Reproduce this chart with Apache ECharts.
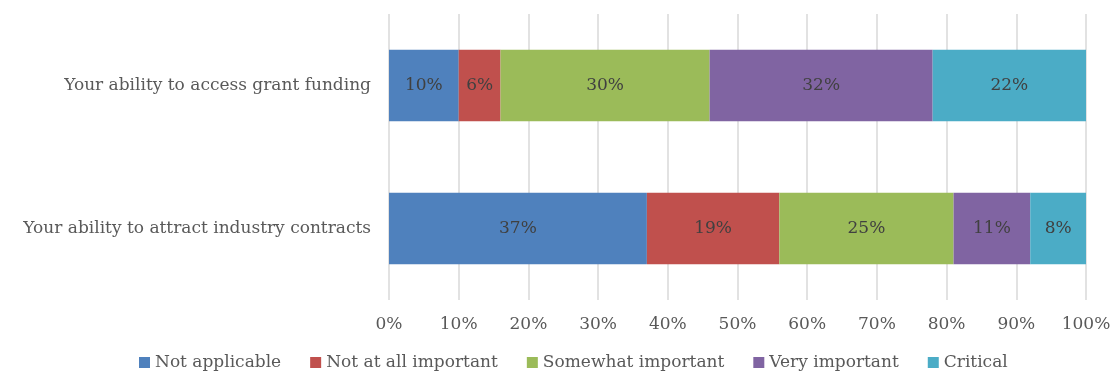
<!DOCTYPE html>
<html>
<head>
<meta charset="utf-8">
<script src="https://cdn.jsdelivr.net/npm/echarts@6/dist/echarts.min.js"></script>
<style>
  html, body { margin: 0; padding: 0; background: #ffffff; }
  #chart { width: 1110px; height: 372px; }
</style>
</head>
<body>
<div id="chart"></div>
<script>
// Survey questions (top to bottom)
const categories = [
  'Your ability to access grant funding',
  'Your ability to attract industry contracts'
];

// Share of responses per rating, in percent, one value per question
const notApplicable     = [10, 37];
const notAtAllImportant = [6, 19];
const somewhatImportant = [30, 25];
const veryImportant     = [32, 11];
const critical          = [22, 8];

const seriesNames = ['Not applicable', 'Not at all important', 'Somewhat important', 'Very important', 'Critical'];
const seriesData = [notApplicable, notAtAllImportant, somewhatImportant, veryImportant, critical];
const colors = ['#4F81BD', '#C0504D', '#9BBB59', '#8064A2', '#4BACC6'];

const FONT = '"DejaVu Serif", "Liberation Serif", serif';

const chart = echarts.init(document.getElementById('chart'));
chart.setOption({
  animation: false,
  color: colors,
  textStyle: { fontFamily: FONT },
  grid: {
    left: 389, right: 24, top: 14, bottom: 72,
    containLabel: false,
    outerBoundsMode: 'none'
  },
  legend: {
    bottom: 1,
    left: 139,
    padding: 0,
    icon: 'rect',
    itemWidth: 11,
    itemHeight: 11,
    itemGap: 29,
    itemTextGap: 4,
    textStyle: { color: '#595959', fontSize: 17, fontFamily: FONT },
    data: seriesNames
  },
  xAxis: {
    type: 'value',
    min: 0,
    max: 100,
    interval: 10,
    axisLine: { show: false },
    axisTick: { show: false },
    axisLabel: {
      color: '#595959',
      fontSize: 17,
      margin: 16,
      formatter: v => v + '%'
    },
    splitLine: { show: true, lineStyle: { color: '#d9d9d9', width: 1.5 } }
  },
  yAxis: {
    type: 'category',
    inverse: true,
    data: categories,
    axisLine: { show: false },
    axisTick: { show: false },
    axisLabel: { color: '#595959', fontSize: 17, margin: 18 }
  },
  series: seriesData.map((d, i) => ({
    name: seriesNames[i],
    type: 'bar',
    stack: 'total',
    barWidth: '50%',
    data: d,
    label: {
      show: true,
      position: 'inside',
      color: '#404040',
      fontSize: 17,
      fontFamily: FONT,
      formatter: p => p.value + '%'
    }
  }))
});
</script>
</body>
</html>
